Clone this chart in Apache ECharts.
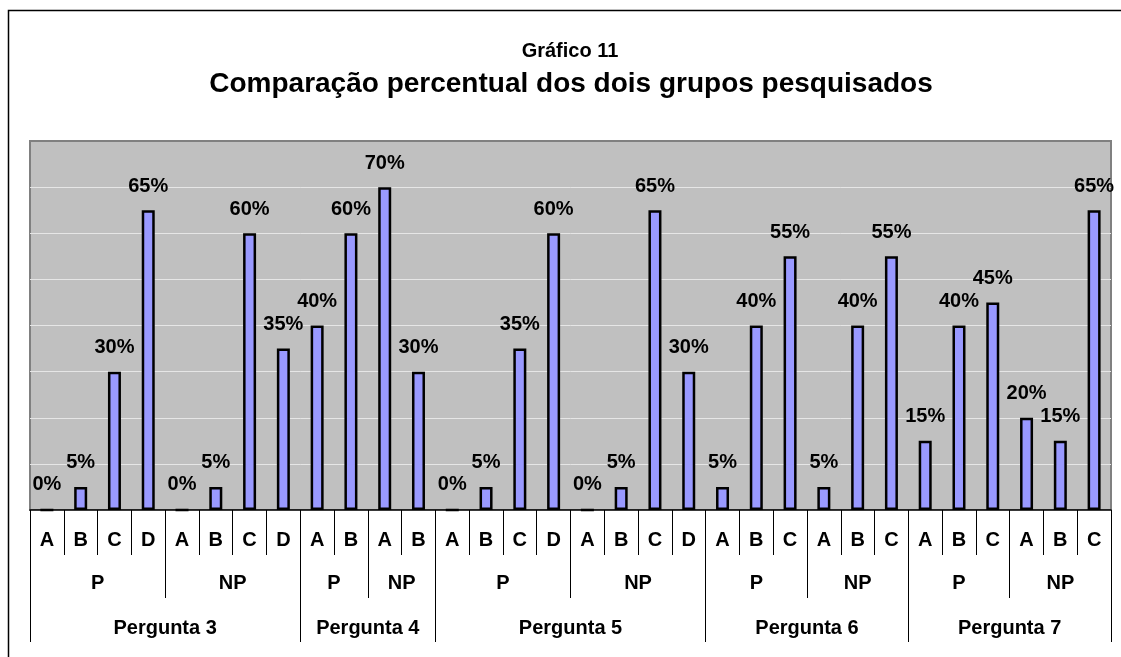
<!DOCTYPE html>
<html>
<head>
<meta charset="utf-8">
<title>Gráfico 11</title>
<script src="https://cdn.jsdelivr.net/npm/echarts@6/dist/echarts.min.js"></script>
<style>
  html, body { margin: 0; padding: 0; background: #fff; }
  #chart { width: 1121px; height: 657px; }
</style>
</head>
<body>
<div id="chart"></div>
<script>
// answer options per bar (first level of the x axis)
const options = ['A', 'B', 'C', 'D', 'A', 'B', 'C', 'D',
  'A', 'B', 'A', 'B',
  'A', 'B', 'C', 'D', 'A', 'B', 'C', 'D',
  'A', 'B', 'C', 'A', 'B', 'C',
  'A', 'B', 'C', 'A', 'B', 'C']
// percentages
const values = [0, 5, 30, 65, 0, 5, 60, 35,
  40, 60, 70, 30,
  0, 5, 35, 60, 0, 5, 65, 30,
  5, 40, 55, 5, 40, 55,
  15, 40, 45, 20, 15, 65]
// second level: groups and how many bars each one spans
const groups = ['P', 'NP', 'P', 'NP', 'P', 'NP', 'P', 'NP', 'P', 'NP']
const groupSizes = [4, 4, 2, 2, 4, 4, 3, 3, 3, 3]
// third level: questions
const questions = ['Pergunta 3', 'Pergunta 4', 'Pergunta 5', 'Pergunta 6', 'Pergunta 7']
const questionSizes = [8, 4, 8, 6, 6]

const FONT = 'Liberation Sans, Arial, sans-serif'

// boundaries and centres of the grouped levels, in bar units
function spans(labels, sizes) {
  const bounds = [0]
  const centers = []
  const names = {}
  let pos = 0
  sizes.forEach(function(s, i) {
    centers.push(pos + s / 2)
    names[String(pos + s / 2)] = labels[i]
    pos += s
    bounds.push(pos)
  })
  return { bounds: bounds, centers: centers, names: names }
}
const lvl1 = spans(options, options.map(function() { return 1 }))
const lvl2 = spans(groups, groupSizes)
const lvl3 = spans(questions, questionSizes)

function levelAxis(level, tickLen, margin, fontSize) {
  return {
    type: 'value',
    position: 'bottom',
    min: 0,
    max: options.length,
    axisLine: { show: false },
    splitLine: { show: false },
    axisTick: {
      show: true,
      customValues: level.bounds,
      length: tickLen,
      lineStyle: { color: '#000', width: 1 }
    },
    axisLabel: {
      show: true,
      customValues: level.centers,
      margin: margin,
      fontSize: fontSize,
      fontWeight: 'bold',
      fontFamily: FONT,
      color: '#000',
      formatter: function(value) {
        return level.names[String(value)] || ''
      }
    }
  }
}

const chart = echarts.init(document.getElementById('chart'))
chart.setOption({
  backgroundColor: '#fff',
  animation: false,
  title: [{
    text: 'Gráfico 11',
    left: 570,
    top: 41,
    padding: 0,
    textAlign: 'center',
    textStyle: { fontSize: 20, fontWeight: 'bold', fontFamily: FONT, color: '#000' }
  }, {
    text: 'Comparação percentual dos dois grupos pesquisados',
    left: 571,
    top: 70,
    padding: 0,
    textAlign: 'center',
    textStyle: { fontSize: 28, fontWeight: 'bold', fontFamily: FONT, color: '#000' }
  }],
  graphic: [{
    type: 'rect',
    silent: true,
    shape: { x: 8.5, y: 10.5, width: 1300, height: 800 },
    style: { fill: 'none', stroke: '#000', lineWidth: 1.5 }
  }],
  grid: {
    left: 30,
    right: 10,
    top: 141,
    bottom: 147,
    show: true,
    backgroundColor: '#C0C0C0',
    borderColor: '#808080',
    borderWidth: 2
  },
  xAxis: [{
    type: 'category',
    data: options,
    position: 'bottom',
    axisLine: { lineStyle: { color: '#000', width: 1.5 } },
    axisTick: { show: false },
    axisLabel: { show: false }
  },
  levelAxis(lvl1, 45, 20, 20),
  levelAxis(lvl2, 88, 63, 20),
  levelAxis(lvl3, 132, 108, 20)
  ],
  yAxis: {
    type: 'value',
    min: 0,
    max: 80,
    interval: 10,
    axisLabel: { show: false },
    axisLine: { show: false },
    axisTick: { show: false },
    splitLine: { showMaxLine: false, lineStyle: { color: '#E6E6E6', width: 1 } }
  },
  series: [{
    type: 'bar',
    xAxisIndex: 0,
    data: values,
    barWidth: 13,
    itemStyle: { color: '#9999FF', borderColor: '#000', borderWidth: 2.5 },
    label: {
      show: true,
      position: 'top',
      distance: 14,
      formatter: '{c}%',
      fontSize: 20,
      fontWeight: 'bold',
      fontFamily: FONT,
      color: '#000'
    }
  }]
})
</script>
</body>
</html>
